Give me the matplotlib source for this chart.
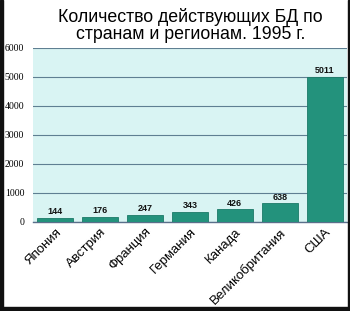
import matplotlib
matplotlib.use("Agg")
import matplotlib.pyplot as plt
from matplotlib.patches import Rectangle

# данные
countries = ["Япония", "Австрия", "Франция", "Германия", "Канада", "Великобритания", "США"]
counts = [144, 176, 247, 343, 426, 638, 5011]
yticks = [0, 1000, 2000, 3000, 4000, 5000, 6000]

fig = plt.figure(figsize=(3.5, 3.11), dpi=100)
fig.patch.set_facecolor("white")

ax = fig.add_axes([0.093, 0.287, 0.899, 0.559])
ax.set_facecolor("#d9f4f3")

# столбцы и подписи значений
ax.bar(range(len(countries)), counts, width=0.81, color="#23927c",
       edgecolor="#1c7a68", linewidth=0.6, zorder=3)
for i, v in enumerate(counts):
    ax.text(i, v + 60, str(v), ha="center", va="bottom", fontsize=6.5,
            fontweight="bold", family="Liberation Sans", color="#111111", zorder=4)

ax.set_xlim(-0.5, len(countries) - 0.5)
ax.set_ylim(0, 6000)
ax.set_yticks(yticks)
ax.set_yticklabels([str(t) for t in yticks], family="Liberation Serif", fontsize=7)
ax.yaxis.grid(True, color="#5f7f92", linewidth=0.8, zorder=1)
ax.tick_params(axis="y", length=0, pad=6)
ax.tick_params(axis="x", length=0, pad=3)

ax.set_xticks(range(len(countries)))
ax.set_xticklabels(countries, rotation=45, ha="right", rotation_mode="anchor",
                   family="Liberation Sans", fontsize=9.5)

for s in ["top", "right", "left"]:
    ax.spines[s].set_visible(False)
ax.spines["bottom"].set_color("#5a6f8a")
ax.spines["bottom"].set_linewidth(1.0)

fig.text(0.545, 0.975, "Количество действующих БД по\nстранам и регионам. 1995 г.",
         ha="center", va="top", fontsize=12.8, family="Liberation Sans",
         linespacing=1.0)

# рамка картинки
fig.patches.append(Rectangle((0, 0), 0.009, 1, transform=fig.transFigure,
                             color="#111111", zorder=10))
fig.patches.append(Rectangle((0, 0), 1, 0.012, transform=fig.transFigure,
                             color="#111111", zorder=10))
fig.patches.append(Rectangle((0.995, 0), 0.005, 1, transform=fig.transFigure,
                             color="#111111", zorder=10))

fig.savefig("out.png", dpi=100)
